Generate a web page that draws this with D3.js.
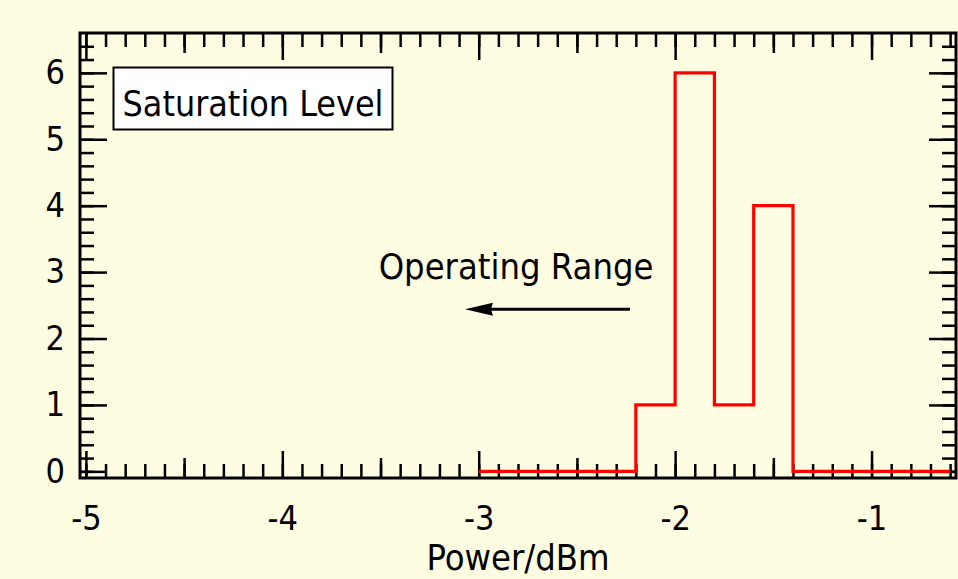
<!DOCTYPE html>
<html>
<head>
<meta charset="utf-8">
<script src="https://cdn.jsdelivr.net/npm/d3@7"></script>
<style>
  html, body { margin: 0; padding: 0; background: #fffde1; }
  svg { display: block; }
  text { font-family: "DejaVu Sans Condensed", "DejaVu Sans", sans-serif; font-stretch: condensed; fill: #000; }
</style>
</head>
<body>
<div id="main"></div>
<script>
// histogram bins (left edge, count), width 0.2 dBm
const binEdges = [-3.0, -2.8, -2.6, -2.4, -2.2, -2.0, -1.8, -1.6, -1.4, -1.2, -1.0, -0.8, -0.6];
const counts   = [0, 0, 0, 0, 1, 6, 1, 4, 0, 0, 0, 0, 0];

const xMajor = [-5, -4, -3, -2, -1];
const xMid = [-4.5, -3.5, -2.5, -1.5];
const xMinor = d3.range(-50, -5).map(d => d / 10);
const yMajor = [0, 1, 2, 3, 4, 5, 6];
const yMinor = d3.range(0, 33).map(d => d / 5);

const width = 958;
const height = 579;
const frame = ({ left: 80, right: 956, top: 33, bottom: 478 });

const x = d3.scaleLinear()
    .domain([-5.03, -0.57])
    .range([frame.left, frame.right]);

const y = d3.scaleLinear()
    .domain([-0.1, 6.6])
    .range([frame.bottom, frame.top]);

const svg = d3.create("svg")
    .attr("width", width)
    .attr("height", height)
    .attr("viewBox", [0, 0, width, height]);

svg.append("rect")
    .attr("width", width)
    .attr("height", height)
    .attr("fill", "#fffde1");

const styleAxis = g => g
    .call(g => g.select(".domain").remove())
    .call(g => g.selectAll(".tick line").attr("stroke", "#000").attr("stroke-width", 2.5))
    .call(g => g.selectAll(".tick text").attr("font-size", 34).attr("font-family", null));

const label = d => String(d); // plain hyphen, not the unicode minus

// bottom + top ticks
const xTicks = [[xMinor, 14], [xMid, 20], [xMajor, 27]];
xTicks.forEach(([vals, len]) => {
    svg.append("g")
        .attr("transform", `translate(0,${frame.bottom})`)
        .call(d3.axisBottom(x).tickValues(vals).tickSizeInner(-len).tickSizeOuter(0)
            .tickPadding(28).tickFormat(len === 27 ? label : ""))
        .call(styleAxis);
    svg.append("g")
        .attr("transform", `translate(0,${frame.top})`)
        .call(d3.axisTop(x).tickValues(vals).tickSizeInner(-len).tickSizeOuter(0).tickFormat(""))
        .call(styleAxis);
});

// left + right ticks
const yTicks = [[yMinor, 14], [yMajor, 27]];
yTicks.forEach(([vals, len]) => {
    svg.append("g")
        .attr("transform", `translate(${frame.left},0)`)
        .call(d3.axisLeft(y).tickValues(vals).tickSizeInner(-len).tickSizeOuter(0)
            .tickPadding(15).tickFormat(len === 27 ? label : ""))
        .call(styleAxis);
    svg.append("g")
        .attr("transform", `translate(${frame.right},0)`)
        .call(d3.axisRight(y).tickValues(vals).tickSizeInner(-len).tickSizeOuter(0).tickFormat(""))
        .call(styleAxis);
});

// frame
svg.append("rect")
    .attr("x", frame.left)
    .attr("y", frame.top)
    .attr("width", frame.right - frame.left)
    .attr("height", frame.bottom - frame.top)
    .attr("fill", "none")
    .attr("stroke", "#000")
    .attr("stroke-width", 3);

// histogram step line
const line = d3.line()
    .curve(d3.curveStepAfter)
    .x((d, i) => x(binEdges[i]))
    .y(d => y(d));

svg.append("path")
    .datum(counts)
    .attr("fill", "none")
    .attr("stroke", "#ff0000")
    .attr("stroke-width", 3.2)
    .attr("stroke-linejoin", "miter")
    .attr("d", line);

// Saturation Level label box
svg.append("rect")
    .attr("x", 113.5)
    .attr("y", 67.5)
    .attr("width", 279)
    .attr("height", 62)
    .attr("fill", "#fff")
    .attr("stroke", "#000")
    .attr("stroke-width", 2);

svg.append("text")
    .attr("x", 253)
    .attr("y", 116)
    .attr("text-anchor", "middle")
    .attr("font-size", 35.5)
    .text("Saturation Level");

// operating range annotation
svg.append("text")
    .attr("x", x(-2.81))
    .attr("y", y(2.9))
    .attr("text-anchor", "middle")
    .attr("font-size", 36)
    .text("Operating Range");

const arrowY = y(2.44);
const tipX = x(-3.07);

svg.append("line")
    .attr("x1", x(-2.23))
    .attr("x2", tipX + 20)
    .attr("y1", arrowY)
    .attr("y2", arrowY)
    .attr("stroke", "#000")
    .attr("stroke-width", 3);

svg.append("path")
    .attr("d", `M${tipX},${arrowY}L${tipX + 28},${arrowY - 6.5}L${tipX + 26},${arrowY}L${tipX + 28},${arrowY + 6.5}Z`)
    .attr("fill", "#000");

// axis title
svg.append("text")
    .attr("x", (frame.left + frame.right) / 2)
    .attr("y", 570)
    .attr("text-anchor", "middle")
    .attr("font-size", 36)
    .text("Power/dBm");

d3.select("#main").append(() => svg.node());
</script>
</body>
</html>
